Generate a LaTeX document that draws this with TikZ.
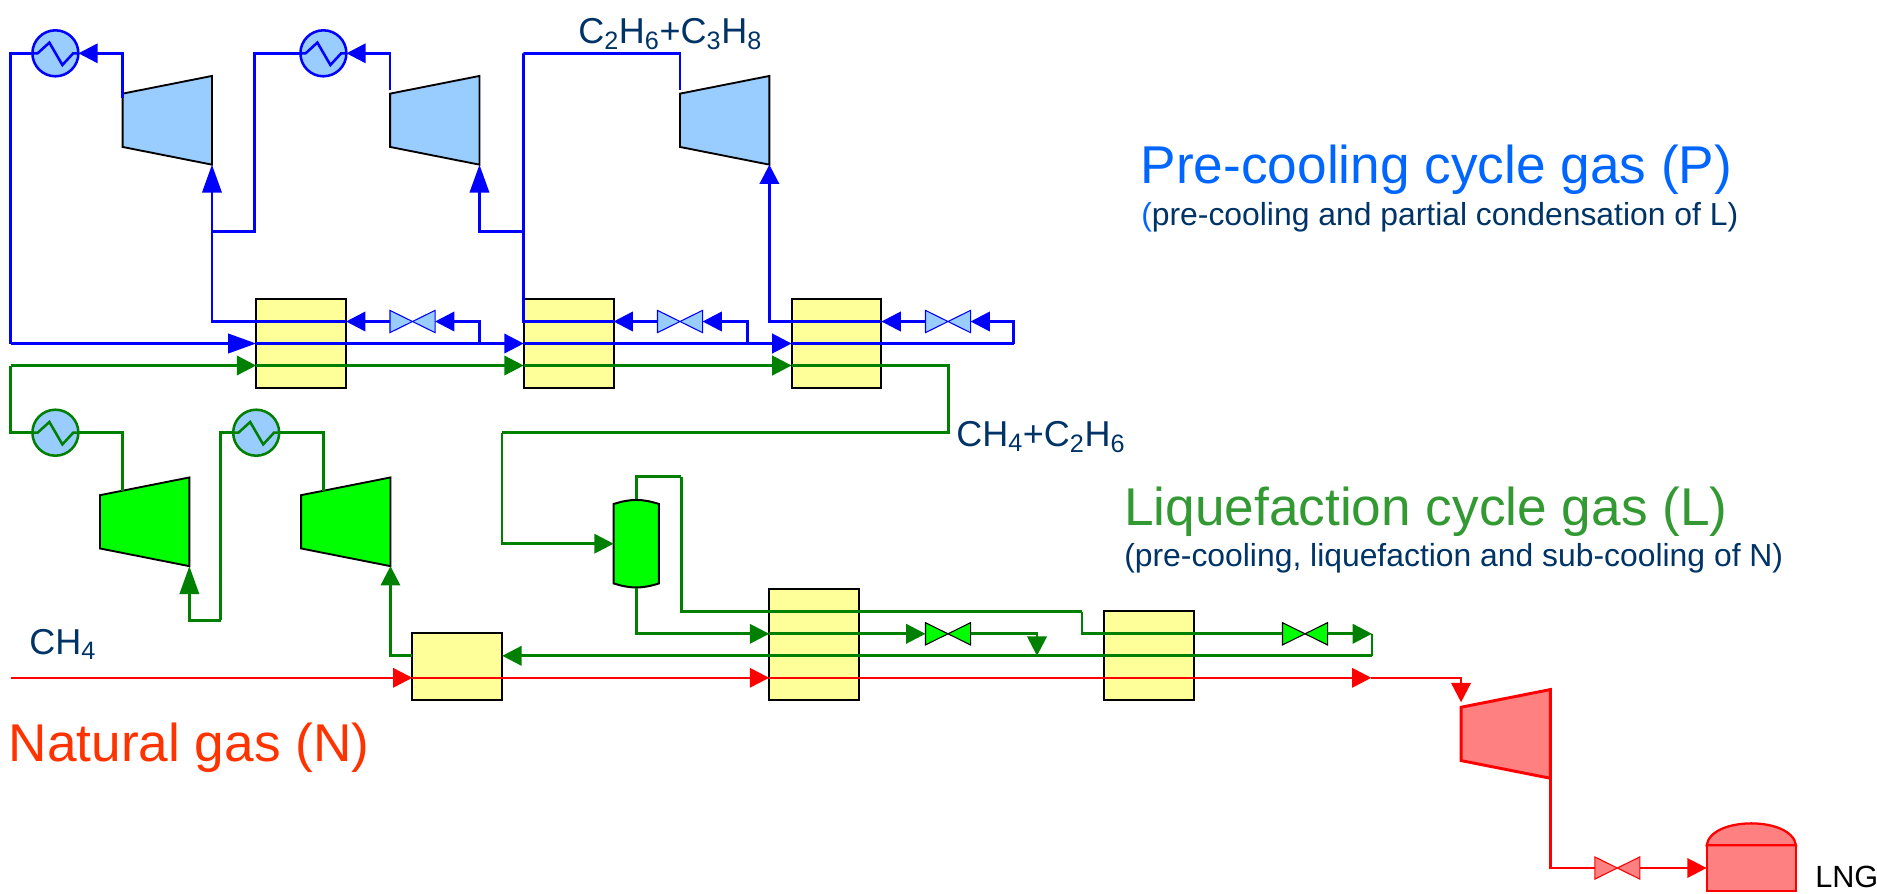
\documentclass[tikz,border=0pt]{standalone}
\usepackage{fontspec}
\setsansfont{Liberation Sans}
\usepackage{tikz}
\usetikzlibrary{positioning,arrows.meta,calc,shapes.geometric}
\definecolor{bluecol}{HTML}{0000FF}
\definecolor{greencol}{HTML}{008000}
\definecolor{redcol}{HTML}{FF0000}
\definecolor{skycol}{HTML}{99CCFF}
\definecolor{limecol}{HTML}{00FF00}
\definecolor{pinkcol}{HTML}{FF8080}
\definecolor{creamcol}{HTML}{FFFF99}
\definecolor{navycol}{HTML}{003366}
\definecolor{titleblue}{HTML}{0066FF}
\definecolor{titlegreen}{HTML}{339933}
\definecolor{titlered}{HTML}{FF3300}

\begin{document}
\begin{tikzpicture}[x=0.75pt,y=-0.75pt,font=\sffamily,
   hx/.style={draw=black,line width=1.5pt,fill=creamcol,minimum width=67.4pt,
              minimum height=67pt,inner sep=0pt,outer sep=0pt},
   comp/.style={trapezium,draw=black,line width=1.4pt,fill=#1,shape border rotate=90,
              trapezium left angle=78.8,trapezium right angle=78.8,
              inner xsep=33.5pt,inner ysep=20pt,outer sep=0pt},
   cooler/.style={circle,draw=#1,line width=1.9pt,fill=skycol,minimum size=34.5pt,
              inner sep=0pt,outer sep=0pt,path picture={
                \draw[#1,line width=1.9pt] (path picture bounding box.center)
                  ++(-23,0) -- ++(5.2,0) -- ++(11.8,-10.7) -- ++(13,22.4) -- ++(10.8,-11.7) -- ++(5.2,0);}},
   valve/.style={minimum width=33.8pt,minimum height=16.7pt,inner sep=0pt,outer sep=0pt},
   bline/.style={draw=bluecol,line width=2pt},
   gline/.style={draw=greencol,line width=2pt},
   rline/.style={draw=redcol,line width=1.9pt},
   longtip/.style={-{Triangle[length=21pt,width=14.5pt]}},
   bigtext/.style={anchor=base west,inner sep=0pt,font=\sffamily\fontsize{39.9}{46}\selectfont},
   subtext/.style={anchor=base west,inner sep=0pt,text=navycol,font=\sffamily\fontsize{23.9}{28}\selectfont},
   gastext/.style={anchor=base west,inner sep=0pt,text=navycol,font=\sffamily\fontsize{27}{32}\selectfont},
   line join=miter,>={Triangle[length=14.5pt,width=14.5pt]},
]
\useasboundingbox (0,0) rectangle (1877,893);
% ----- pre-cooling loop
\node[cooler=bluecol] (clp1) at (55.4,53.3) {};
\node[cooler=bluecol] (clp2) at (323.4,53.3) {};
\node[comp=skycol] (cpp1) at (167.3,120.3) {};
\node[comp=skycol] (cpp2) at (434.8,120.3) {};
\node[comp=skycol] (cpp3) at (724.7,120.3) {};
\node[hx] (hx1) at (301.1,343.5) {};
\node[hx] (hx2) at (568.6,343.5) {};
\node[hx] (hx3) at (836.5,343.5) {};
\node[valve] (vp1) at (412.5,321.5) {};
\node[valve] (vp2) at (680,321.5) {};
\node[valve] (vp3) at (948,321.5) {};
% ----- liquefaction loop
\node[cooler=greencol] (clg1) at (55.4,432.7) {};
\node[cooler=greencol] (clg2) at (256.2,432.7) {};
\node[comp=limecol] (cpg1) at (144.7,521.8) {};
\node[comp=limecol] (cpg2) at (345.8,521.8) {};
\node[hx,minimum height=50.25pt] (hx4) at (457.3,666.8) {};
\node[hx,minimum height=83.25pt] (hx5) at (814.1,644.8) {};
\node[hx] (hx6) at (1148.6,655.8) {};
\node[valve] (vg1) at (948,633.8) {};
\node[valve] (vg2) at (1305,633.8) {};
\node[minimum width=34pt,minimum height=67pt,inner sep=0pt,outer sep=0pt] (sep) at (636.3,543.7) {};
% ----- natural gas
\node[comp=pinkcol,draw=redcol,line width=2.2pt] (cpr) at (1505.7,733.9) {};
\node[valve] (vr) at (1617.3,868) {};
\node[draw=redcol,line width=1.7pt,fill=pinkcol,minimum width=67pt,minimum height=34pt,
      inner sep=0pt,outer sep=0pt] (tank) at (1751.3,868) {};

% vessel outlines
\draw[draw=black,line width=1.5pt,fill=limecol] ([yshift=-3.75pt]sep.north west)
   to[bend left=18] ([yshift=-3.75pt]sep.north east) -- ([yshift=3.75pt]sep.south east)
   to[bend left=18] ([yshift=3.75pt]sep.south west) -- cycle;
\draw[draw=redcol,line width=1.7pt,fill=pinkcol] (tank.north west) .. controls +(4,-29.3) and +(-4,-29.3) .. (tank.north east) -- cycle;
\foreach \v/\e/\f in {vp1/bluecol/skycol,vp2/bluecol/skycol,vp3/bluecol/skycol,
                      vg1/black/limecol,vg2/black/limecol,vr/redcol/pinkcol}
   \draw[draw=\e,line width=0.8pt,fill=\f] (\v.north west) -- (\v.south east)
      -- (\v.north east) -- (\v.south west) -- cycle;

% free corners of the pipes
\coordinate (pleft) at (10.7,343.5);
\coordinate (ptop) at (523.5,53.3);
\coordinate (pj1) at (212,231.7);
\coordinate (prise2) at (254.3,231.7);
\coordinate (pj2) at (523.7,231.7);
\coordinate (pv1) at (479.2,343.5);
\coordinate (pv2) at (747.3,343.5);
\coordinate (pv3) at (1013.8,343.5);
\coordinate (gleft) at (10.7,365.5);
\coordinate (gdown) at (948.2,432.7);
\coordinate (gback) at (502,432.7);
\coordinate (gtop) at (681.3,476.7);
\coordinate (gstep) at (1082,611.8);
\coordinate (gturn) at (1372,633.8);
\coordinate (gret) at (1372,655.8);
\coordinate (gdrop) at (1037,655.8);
\coordinate (gloop) at (220.6,620.3);
\coordinate (rfeed) at (10.7,677.8);
\coordinate (rout) at (1371.4,677.8);

% blue wires
\draw[bline,->] ([yshift=-3.5pt]cpp1.top right corner) |- (clp1.east);
\draw[bline,->] ([yshift=2.5pt]cpp2.top right corner) |- (clp2.east);
\draw[bline] (clp1.west) -| (pleft);
\draw[bline,longtip] (pleft) -- (hx1.west);
\draw[bline,->] (hx1.west) -- (hx2.west);
\draw[bline,->] (hx2.west) -- (hx3.west);
\draw[bline] (hx3.west) -- (pv3);
\draw[bline,->] (pv3) |- (vp3.east);
\draw[bline,->] (vp3.west) -- ([yshift=16.5pt]hx3.east);
\draw[bline,->] ([yshift=16.5pt]hx3.east) -| (cpp3.bottom left corner);
\draw[bline,->] (pv2) |- (vp2.east);
\draw[bline,->] (vp2.west) -- ([yshift=16.5pt]hx2.east);
\draw[bline] ([yshift=16.5pt]hx2.east) -- ([yshift=16.5pt]hx2.west) |- (ptop) -| ([yshift=2.5pt]cpp3.top right corner);
\draw[bline,longtip] (pj2) -| (cpp2.bottom left corner);
\draw[bline,->] (pv1) |- (vp1.east);
\draw[bline,->] (vp1.west) -- ([yshift=16.5pt]hx1.east);
\draw[bline,longtip] ([yshift=16.5pt]hx1.east) -| (cpp1.bottom left corner);
\draw[bline] (pj1) -- (prise2) |- (clp2.west);

% green wires
\draw[gline] (clg1.west) -| (gleft);
\draw[gline,->] (gleft) -- ([yshift=-16.5pt]hx1.west);
\draw[gline,->] ([yshift=-16.5pt]hx1.west) -- ([yshift=-16.5pt]hx2.west);
\draw[gline,->] ([yshift=-16.5pt]hx2.west) -- ([yshift=-16.5pt]hx3.west);
\draw[gline] ([yshift=-16.5pt]hx3.west) -| (gdown) -- (gback);
\draw[gline,->] (gback) |- (sep.west);
\draw[gline] ([xshift=17pt,yshift=3.3pt]cpg1.top right corner) |- (clg1.east);
\draw[gline] ([xshift=17pt,yshift=3.3pt]cpg2.top right corner) |- (clg2.east);
\draw[gline] (clg2.west) -| (gloop);
\draw[gline,longtip] (gloop) -| (cpg1.bottom left corner);
\draw[gline] (sep.north) -- (sep.north |- gtop) -- (gtop);
\draw[gline] (gtop) |- (gstep);
\draw[gline] (gstep) |- (vg2.west);
\draw[gline,->] (vg2.east) -- (gturn);
\draw[gline] (gturn) -- (gret);
\draw[gline,->] (gret) -- ([yshift=8.25pt]hx4.east);
\draw[gline,->] ([yshift=8.25pt]hx4.west) -| (cpg2.bottom left corner);
\draw[gline,->] (sep.south) |- ([yshift=8.25pt]hx5.west);
\draw[gline,->] ([yshift=8.25pt]hx5.west) -- (vg1.west);
\draw[gline,->] (vg1.east) -| (gdrop);

% red wires
\draw[rline,->] (rfeed) -- ([yshift=-8.25pt]hx4.west);
\draw[rline,->] ([yshift=-8.25pt]hx4.west) -- ([yshift=-24.75pt]hx5.west);
\draw[rline,->] ([yshift=-24.75pt]hx5.west) -- (rout);
\draw[rline,->] (rout) -| ([yshift=3.7pt]cpr.top right corner);
\draw[rline] (cpr.bottom left corner) |- (vr.west);
\draw[rline,->] (vr.east) -- (tank.west);

% ----- labels
\node[bigtext,text=titleblue] (ttlp) at (1140.5,183) {Pre-cooling cycle gas (P)};
\node[subtext] (subp) at (1141,225) {\textcolor{titleblue}{(}pre-cooling and partial condensation of L)};
\node[bigtext,text=titlegreen] (ttlg) at (1124,525) {Liquefaction cycle gas (L)};
\node[subtext] (subg) at (1124,566) {(pre-cooling, liquefaction and sub-cooling of N)};
\node[bigtext,text=titlered] (ttlr) at (8.5,761) {Natural gas (N)};
\node[gastext] (gasp) at (578,43) {C\textsubscript{2}H\textsubscript{6}+C\textsubscript{3}H\textsubscript{8}};
\node[gastext] (gasg) at (956,446) {CH\textsubscript{4}+C\textsubscript{2}H\textsubscript{6}};
\node[gastext] (gasr) at (29,654) {CH\textsubscript{4}};
\node[subtext,text=black,font=\sffamily\fontsize{23}{28}\selectfont] (lng) at (1815,887) {LNG};
\end{tikzpicture}
\end{document}
